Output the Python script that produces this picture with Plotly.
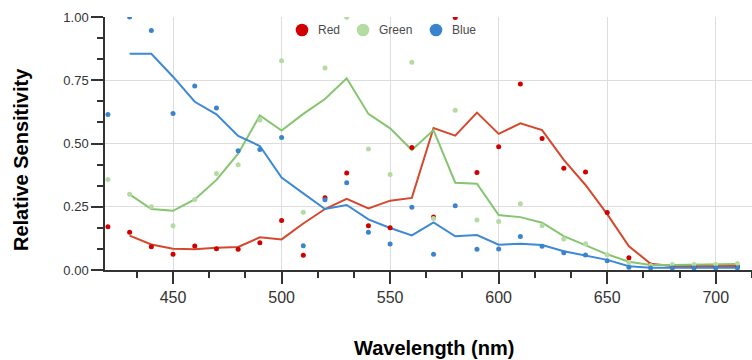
import plotly.graph_objects as go

# ---- data ----
wavelength_raw = list(range(420, 720, 10))
red_raw = [0.171, 0.149, 0.092, 0.062, 0.095, 0.084, 0.082, 0.108, 0.196, 0.058,
           0.286, 0.383, 0.175, 0.167, 0.484, 0.209, 0.998, 0.385, 0.487, 0.735,
           0.520, 0.402, 0.387, 0.227, 0.048, 0.020, 0.015, 0.015, 0.015, 0.015]
green_raw = [0.358, 0.299, 0.250, 0.175, 0.279, 0.381, 0.416, 0.593, 0.827, 0.228,
             0.798, 0.999, 0.478, 0.377, 0.821, 0.204, 0.631, 0.198, 0.192, 0.262,
             0.175, 0.123, 0.104, 0.060, 0.030, 0.018, 0.022, 0.022, 0.022, 0.026]
blue_raw = [0.615, 1.000, 0.947, 0.619, 0.727, 0.640, 0.471, 0.476, 0.524, 0.096,
            0.278, 0.345, 0.149, 0.103, 0.248, 0.062, 0.254, 0.082, 0.083, 0.132,
            0.094, 0.068, 0.059, 0.037, 0.011, 0.008, 0.008, 0.008, 0.008, 0.008]

wavelength_smooth = list(range(430, 720, 10))
red_smooth = [0.136, 0.101, 0.084, 0.082, 0.088, 0.091, 0.129, 0.121, 0.184, 0.241,
              0.281, 0.243, 0.274, 0.285, 0.561, 0.531, 0.622, 0.538, 0.580, 0.553,
              0.435, 0.336, 0.221, 0.094, 0.025, 0.016, 0.016, 0.016, 0.016]
green_smooth = [0.299, 0.241, 0.234, 0.279, 0.356, 0.460, 0.611, 0.551, 0.617, 0.676,
                0.758, 0.617, 0.560, 0.474, 0.553, 0.345, 0.341, 0.217, 0.209, 0.187,
                0.134, 0.098, 0.062, 0.033, 0.020, 0.020, 0.021, 0.022, 0.024]
blue_smooth = [0.855, 0.855, 0.764, 0.665, 0.615, 0.530, 0.490, 0.365, 0.303, 0.241,
               0.257, 0.200, 0.166, 0.137, 0.188, 0.133, 0.138, 0.100, 0.104, 0.099,
               0.074, 0.057, 0.040, 0.015, 0.009, 0.009, 0.009, 0.009, 0.009]

series_names = ["Red", "Green", "Blue"]
y_ticks = [0, 0.25, 0.5, 0.75, 1.0]
x_ticks = [450, 500, 550, 600, 650, 700]

# ---- styles ----
dot_colors = ["#d00000", "#b3dba2", "#3a84cf"]
line_colors = ["#d6482c", "#85c56f", "#3d89d4"]
FONT = "Liberation Sans, Arial, sans-serif"

W, H = 752, 360
ML, MR, MT, MB = 105, 0, 17, 90
PW, PH = W - ML - MR, H - MT - MB

fig = go.Figure()
raws = [red_raw, green_raw, blue_raw]
smooths = [red_smooth, green_smooth, blue_smooth]
for name, sm, lc in zip(series_names, smooths, line_colors):
    fig.add_trace(go.Scatter(x=wavelength_smooth, y=sm, mode="lines",
                             line=dict(color=lc, width=2), name=name, showlegend=False,
                             hoverinfo="skip"))
for name, raw, dc in zip(series_names, raws, dot_colors):
    fig.add_trace(go.Scatter(x=wavelength_raw, y=raw, mode="markers",
                             marker=dict(color=dc, size=5), name=name, showlegend=False))

def px_to_paper_x(px):
    return (px - ML) / PW

def px_to_paper_y(py):
    return (H - MB - py) / PH

# manual legend
legend_marker_px = [302, 363, 436]
legend_text_px = [316, 377, 450]
shapes = []
annotations = []
for name, mx, tx, dc in zip(series_names, legend_marker_px, legend_text_px, dot_colors):
    shapes.append(dict(type="circle", xref="paper", yref="paper",
                       xsizemode="pixel", ysizemode="pixel",
                       xanchor=px_to_paper_x(mx), yanchor=px_to_paper_y(30),
                       x0=-6.3, x1=6.3, y0=-6.3, y1=6.3,
                       fillcolor=dc, line=dict(width=0)))
    annotations.append(dict(text=name, xref="paper", yref="paper",
                            x=px_to_paper_x(tx), y=px_to_paper_y(30),
                            xanchor="left", yanchor="middle", showarrow=False,
                            font=dict(family=FONT, size=12, color="#4a4a4a")))

annotations.append(dict(text="<b>Wavelength (nm)</b>", xref="paper", yref="paper",
                        x=px_to_paper_x(434), y=px_to_paper_y(348),
                        xanchor="center", yanchor="middle", showarrow=False,
                        font=dict(family=FONT, size=20, color="#000")))
annotations.append(dict(text="<b>Relative Sensitivity</b>", xref="paper", yref="paper",
                        x=px_to_paper_x(21), y=px_to_paper_y(160), textangle=-90,
                        xanchor="center", yanchor="middle", showarrow=False,
                        font=dict(family=FONT, size=20, color="#000")))

fig.update_layout(
    width=W, height=H,
    margin=dict(l=ML, r=MR, t=MT, b=MB, pad=0),
    plot_bgcolor="white", paper_bgcolor="white",
    showlegend=False,
    shapes=shapes, annotations=annotations,
    font=dict(family=FONT, color="#333"),
)
fig.update_xaxes(
    range=[418.66, 716.7], tickvals=x_ticks, ticktext=[str(v) for v in x_ticks],
    showgrid=True, gridcolor="#dddddd", gridwidth=1,
    showline=True, linecolor="#333", linewidth=1.5,
    ticks="outside", ticklen=12, tickcolor="#333", tickwidth=1.5,
    tickfont=dict(family=FONT, size=16, color="#333"),
    minor=dict(dtick=50 / 3, tick0=450, ticks="outside", ticklen=6, tickcolor="#333",
               showgrid=False),
    zeroline=False, fixedrange=True,
)
fig.update_yaxes(
    range=[0, 1], tickvals=y_ticks, ticktext=[f"{v:.2f}" for v in y_ticks],
    showgrid=True, gridcolor="#dddddd", gridwidth=1,
    showline=True, linecolor="#333", linewidth=1.5,
    ticks="outside", ticklen=12, tickcolor="#333", tickwidth=1.5,
    tickfont=dict(family=FONT, size=13, color="#333"),
    minor=dict(dtick=0.25 / 3, tick0=0, ticks="outside", ticklen=6, tickcolor="#333",
               showgrid=False),
    zeroline=False, fixedrange=True,
)

fig.write_html("out.html", config={"displayModeBar": False})
